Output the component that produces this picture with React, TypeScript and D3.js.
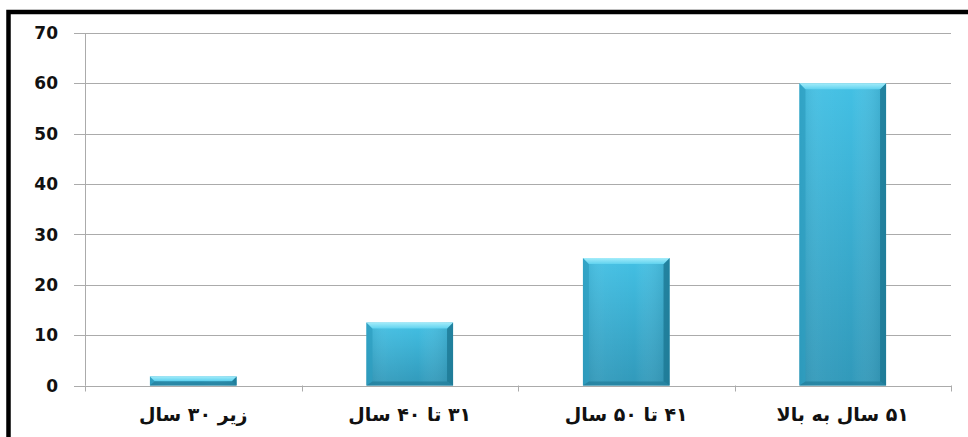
import React from "react";
import * as d3 from "d3";

// Age groups and their percentages
const categories = ["زیر ۳۰ سال", "۳۱ تا ۴۰ سال", "۴۱ تا ۵۰ سال", "۵۱ سال به بالا"];
const values = [1.8, 12.5, 25.3, 60];
const yTicks = [0, 10, 20, 30, 40, 50, 60, 70];

const W = 968;
const H = 437;
const plot = { left: 85, right: 951, top: 33, bottom: 385.5 };

export default function App() {
  const x = d3
    .scaleBand<string>()
    .domain(categories)
    .range([plot.left, plot.right])
    .paddingInner(0.6)
    .paddingOuter(0.3);
  const y = d3.scaleLinear().domain([0, 70]).range([plot.bottom, plot.top]);
  const step = (plot.right - plot.left) / categories.length;
  const boundaries = d3.range(categories.length + 1).map((i) => plot.left + i * step);

  return (
    <svg
      width={W}
      height={H}
      style={{ position: "absolute", left: 0, top: 0, background: "#fff" }}
    >
      <defs>
        <linearGradient id="barV" x1="0" y1="0" x2="0" y2="1">
          <stop offset="0" stopColor="#43c0e4" />
          <stop offset="1" stopColor="#3199ba" />
        </linearGradient>
        <linearGradient id="barH" x1="0" y1="0" x2="1" y2="0">
          <stop offset="0" stopColor="#0b5d78" stopOpacity="0.18" />
          <stop offset="0.25" stopColor="#ffffff" stopOpacity="0.04" />
          <stop offset="0.6" stopColor="#ffffff" stopOpacity="0" />
          <stop offset="1" stopColor="#0b5d78" stopOpacity="0.25" />
        </linearGradient>
        <linearGradient id="bevelTop" x1="0" y1="0" x2="0" y2="1">
          <stop offset="0" stopColor="#a3ecfa" />
          <stop offset="1" stopColor="#5fd2ef" />
        </linearGradient>
      </defs>

      {/* frame */}
      <rect x={8.5} y={12} width={1000} height={1000} fill="none" stroke="#000" strokeWidth={4.5} />

      {/* gridlines and y ticks */}
      {yTicks.map((t) => (
        <g key={t}>
          <line
            x1={plot.left - 11}
            x2={plot.right}
            y1={Math.round(y(t)) + 0.5}
            y2={Math.round(y(t)) + 0.5}
            stroke="#ababab"
            strokeWidth={1}
          />
          <text
            x={58}
            y={y(t)}
            dy="0.36em"
            textAnchor="end"
            fontFamily="'DejaVu Sans', Verdana, sans-serif"
            fontWeight="bold"
            fontSize={17}
            fill="#111"
          >
            {t}
          </text>
        </g>
      ))}

      {/* y axis */}
      <line x1={plot.left + 0.5} x2={plot.left + 0.5} y1={plot.top} y2={plot.bottom} stroke="#ababab" />

      {/* x category ticks */}
      {boundaries.map((bx, i) => (
        <line
          key={i}
          x1={Math.round(bx) + 0.5}
          x2={Math.round(bx) + 0.5}
          y1={plot.bottom}
          y2={plot.bottom + 6}
          stroke="#ababab"
        />
      ))}

      {/* bars */}
      {categories.map((c, i) => {
        const x0 = x(c)!;
        const x1 = x0 + x.bandwidth();
        const yT = y(values[i]);
        const yB = y(0);
        const b = Math.min(6, (yB - yT) / 2, (x1 - x0) / 2);
        const sb = Math.min(4, b);
        const pts = (arr: number[][]) => arr.map((p) => p.join(",")).join(" ");
        return (
          <g key={c}>
            <rect x={x0} y={yT} width={x1 - x0} height={yB - yT} fill="url(#barV)" />
            <rect x={x0} y={yT} width={x1 - x0} height={yB - yT} fill="url(#barH)" />
            <polygon points={pts([[x0, yT], [x0 + b, yT + b], [x0 + b, yB - sb], [x0, yB]])} fill="#2e9ec0" opacity={0.7} />
            <polygon points={pts([[x1, yT], [x1, yB], [x1 - b, yB - sb], [x1 - b, yT + b]])} fill="#1d7894" opacity={0.8} />
            <polygon points={pts([[x0, yB], [x0 + b, yB - sb], [x1 - b, yB - sb], [x1, yB]])} fill="#237f9c" opacity={0.75} />
            <polygon points={pts([[x0, yT], [x1, yT], [x1 - b, yT + b], [x0 + b, yT + b]])} fill="url(#bevelTop)" />
          </g>
        );
      })}

      {/* x axis baseline */}
      <line
        x1={plot.left - 11}
        x2={plot.right}
        y1={Math.round(plot.bottom) + 0.5}
        y2={Math.round(plot.bottom) + 0.5}
        stroke="#ababab"
      />

      {/* category labels */}
      {categories.map((c) => (
        <text
          key={c}
          x={x(c)! + x.bandwidth() / 2}
          y={421}
          textAnchor="middle"
          direction="rtl"
          fontFamily="'DejaVu Sans', Tahoma, sans-serif"
          fontWeight="bold"
          fontSize={19}
          letterSpacing={1}
          fill="#111"
        >
          {c}
        </text>
      ))}
    </svg>
  );
}
